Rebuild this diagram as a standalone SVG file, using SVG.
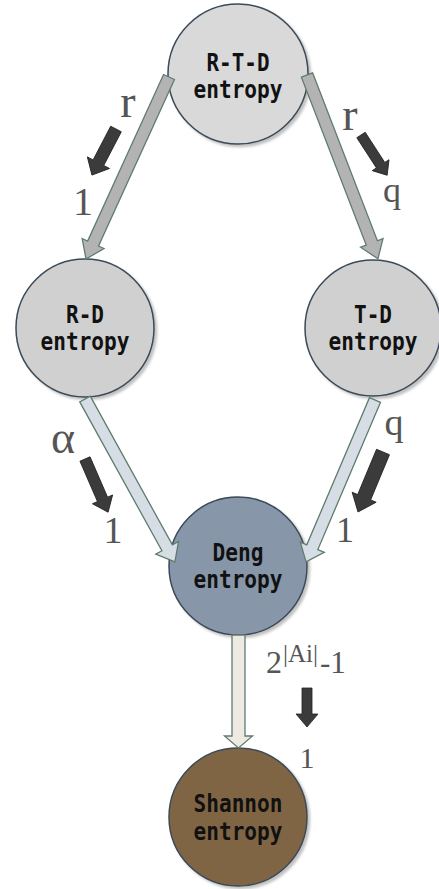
<svg xmlns="http://www.w3.org/2000/svg" width="439" height="889" viewBox="0 0 439 889">
<defs>
<filter id="sh" x="-20%" y="-20%" width="140%" height="140%">
<feDropShadow dx="2.5" dy="2.5" stdDeviation="1.2" flood-color="#777" flood-opacity="0.45"/>
</filter>
</defs>
<style>
.node{stroke:#3a4a58;stroke-width:1.5;filter:url(#sh)}
.nt{font-family:"DejaVu Sans Mono","Liberation Mono",monospace;font-weight:bold;font-size:25px;fill:#111;text-anchor:middle}
.big{stroke:#5e7c6e;stroke-width:1.3;stroke-linejoin:miter}
.sm{fill:#3b3b3b;stroke:#222;stroke-width:0.8}
.lb{font-family:"Liberation Serif","Times New Roman",serif;fill:#555;text-anchor:middle}
</style>
<rect width="439" height="889" fill="#fff"/>
<g id="n-rtd">
<circle class="node" cx="238" cy="74" r="70" fill="#d9d9d9"/>
<text class="nt" x="238" y="71" textLength="63" lengthAdjust="spacingAndGlyphs">R-T-D</text>
<text class="nt" x="238" y="98" textLength="89" lengthAdjust="spacingAndGlyphs">entropy</text>
</g>
<g id="n-rd">
<circle class="node" cx="85" cy="328" r="69" fill="#d0d0d0"/>
<text class="nt" x="85" y="323" textLength="38" lengthAdjust="spacingAndGlyphs">R-D</text>
<text class="nt" x="85" y="350" textLength="89" lengthAdjust="spacingAndGlyphs">entropy</text>
</g>
<g id="n-td">
<circle class="node" cx="373" cy="328" r="68" fill="#d0d0d0"/>
<text class="nt" x="373" y="323" textLength="38" lengthAdjust="spacingAndGlyphs">T-D</text>
<text class="nt" x="373" y="350" textLength="89" lengthAdjust="spacingAndGlyphs">entropy</text>
</g>
<g id="n-deng">
<circle class="node" cx="238" cy="566" r="69" fill="#8797a9"/>
<text class="nt" x="238" y="561" textLength="51" lengthAdjust="spacingAndGlyphs">Deng</text>
<text class="nt" x="238" y="588" textLength="89" lengthAdjust="spacingAndGlyphs">entropy</text>
</g>
<g id="n-shannon">
<circle class="node" cx="238" cy="817" r="69" fill="#806545"/>
<text class="nt" x="238" y="812" textLength="89" lengthAdjust="spacingAndGlyphs">Shannon</text>
<text class="nt" x="238" y="840" textLength="89" lengthAdjust="spacingAndGlyphs">entropy</text>
</g>
<g id="connectors">
<polygon class="big" fill="#b3b3b3" transform="translate(169,77) rotate(114.51)" points="0,-6 183,-6 183,-12 200,0 183,12 183,6 0,6"/>
<polygon class="big" fill="#b3b3b3" transform="translate(307,75) rotate(68.9)" points="0,-6 180,-6 180,-12 197,0 180,12 180,6 0,6"/>
<polygon class="big" fill="#d6dde5" transform="translate(85,399) rotate(61.1)" points="0,-6 170,-6 170,-13 186,0 170,13 170,6 0,6"/>
<polygon class="big" fill="#d6dde5" transform="translate(375,400) rotate(113.07)" points="0,-6 160,-6 160,-13 176,0 160,13 160,6 0,6"/>
<polygon class="big" fill="#eee9e3" transform="translate(238.5,635) rotate(90)" points="0,-6.5 101,-6.5 101,-14 113,0 101,14 101,6.5 0,6.5"/>
</g>
<g id="direction-arrows">
<polygon class="sm" transform="translate(116,129) rotate(117.55)" points="0,-6 38,-6 38,-12.5 52,0 38,12.5 38,6 0,6"/>
<polygon class="sm" transform="translate(361,135) rotate(56.98)" points="0,-5 36,-5 36,-10 48,0 36,10 36,5 0,5"/>
<polygon class="sm" transform="translate(85,459) rotate(66.54)" points="0,-5.5 44,-5.5 44,-11 58,0 44,11 44,5.5 0,5.5"/>
<polygon class="sm" transform="translate(383,452) rotate(112.62)" points="0,-7 49,-7 49,-13 65,0 49,13 49,7 0,7"/>
<polygon class="sm" transform="translate(307,688) rotate(90)" points="0,-5 26,-5 26,-11 39,0 26,11 26,5 0,5"/>
</g>
<g id="labels">
<text class="lb" x="128" y="117" font-size="46">r</text>
<text class="lb" x="350" y="130" font-size="46">r</text>
<text class="lb" x="83" y="215" font-size="40">1</text>
<text class="lb" x="392" y="202" font-size="36">q</text>
<text class="lb" x="63" y="453" font-size="46">α</text>
<text class="lb" x="113" y="543" font-size="38">1</text>
<text class="lb" x="394" y="435" font-size="38">q</text>
<text class="lb" x="345" y="542" font-size="36">1</text>
<text class="lb" x="307" y="768" font-size="30">1</text>
<text font-family="Liberation Serif,'Times New Roman',serif" fill="#555"><tspan x="266" y="673" font-size="32">2</tspan><tspan x="283" y="662" font-size="25">|Ai|</tspan><tspan x="320" y="673" font-size="31">-1</tspan></text>
</g>
</svg>
